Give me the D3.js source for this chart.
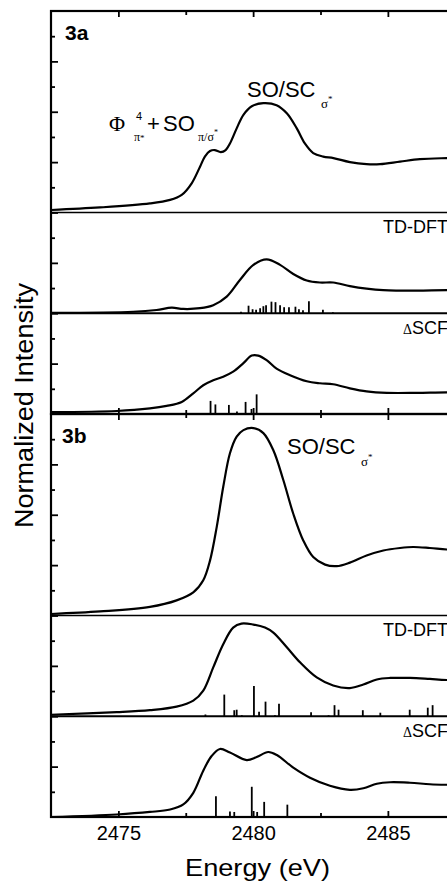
<!DOCTYPE html>
<html>
<head>
<meta charset="utf-8">
<script src="https://cdn.jsdelivr.net/npm/d3@7"></script>
<style>
  body { margin: 0; background: #fff; }
  svg { display: block; font-family: 'Liberation Sans', Arial, sans-serif; }
</style>
</head>
<body>
<div id="chart"></div>
<script>
// energy (eV), intensity above the trace's own baseline
const expA = [[2472.5,0.05],[2474.32,0.10],[2476.17,0.18],[2476.92,0.25],[2477.35,0.35],[2477.72,0.58],[2478.03,0.91],[2478.21,1.11],[2478.40,1.22],[2478.57,1.24],[2478.80,1.20],[2478.98,1.24],[2479.14,1.37],[2479.39,1.67],[2479.64,1.94],[2479.95,2.11],[2480.38,2.17],[2480.87,2.13],[2481.25,1.97],[2481.62,1.67],[2481.92,1.37],[2482.23,1.18],[2482.60,1.11],[2482.98,1.08],[2483.59,1.00],[2484.21,0.96],[2484.71,0.96],[2485.45,1.01],[2486.19,1.06],[2487.19,1.08],[2488.5,1.09],[2490,1.09]];
const tddftA = [[2472.5,0.01],[2475.55,0.03],[2476.42,0.065],[2476.98,0.11],[2477.41,0.085],[2478.03,0.10],[2478.52,0.16],[2479.02,0.33],[2479.51,0.66],[2480.01,0.96],[2480.50,1.07],[2481.00,0.96],[2481.49,0.78],[2481.99,0.65],[2482.48,0.61],[2482.97,0.61],[2483.59,0.54],[2484.21,0.49],[2484.83,0.46],[2486.07,0.45],[2487.19,0.46],[2490,0.46]];
const tddftSticksA = [[2479.55,0.03],[2479.83,0.15],[2479.98,0.08],[2480.11,0.07],[2480.26,0.10],[2480.38,0.14],[2480.48,0.16],[2480.68,0.23],[2480.83,0.22],[2481.00,0.16],[2481.15,0.12],[2481.33,0.12],[2481.57,0.13],[2481.70,0.08],[2481.85,0.06],[2482.07,0.24],[2482.59,0.07],[2482.96,0.02]];
const scfA = [[2472.5,0.04],[2474.94,0.06],[2476.17,0.11],[2476.79,0.16],[2477.35,0.24],[2477.78,0.41],[2478.15,0.57],[2478.52,0.67],[2478.89,0.74],[2479.26,0.84],[2479.64,1.01],[2479.95,1.16],[2480.19,1.16],[2480.50,1.07],[2480.87,0.90],[2481.37,0.77],[2481.99,0.65],[2482.48,0.61],[2482.97,0.59],[2483.59,0.51],[2484.21,0.45],[2484.96,0.42],[2486.07,0.42],[2487.19,0.43],[2490,0.43]];
const scfSticksA = [[2476.75,0.02],[2478.16,0.02],[2478.42,0.26],[2478.60,0.19],[2479.10,0.18],[2479.40,0.05],[2479.72,0.24],[2479.94,0.10],[2480.13,0.39]];

const expB = [[2472.5,0.03],[2474.32,0.08],[2476.17,0.17],[2477.16,0.30],[2477.78,0.46],[2478.15,0.70],[2478.40,1.09],[2478.65,1.76],[2478.89,2.55],[2479.14,3.22],[2479.39,3.55],[2479.64,3.68],[2480.01,3.72],[2480.38,3.62],[2480.75,3.28],[2481.12,2.69],[2481.49,2.02],[2481.86,1.49],[2482.23,1.16],[2482.67,1.01],[2483.10,0.98],[2483.59,1.05],[2484.21,1.19],[2484.83,1.29],[2485.45,1.34],[2485.94,1.36],[2486.56,1.34],[2487.19,1.31],[2488.5,1.28],[2490,1.27]];
const tddftB = [[2472.5,0.03],[2474.94,0.08],[2476.17,0.12],[2477.16,0.19],[2477.78,0.31],[2478.15,0.51],[2478.52,0.97],[2478.89,1.43],[2479.26,1.76],[2479.57,1.84],[2480.01,1.82],[2480.44,1.76],[2480.75,1.66],[2481.25,1.37],[2481.74,1.07],[2482.36,0.77],[2482.97,0.61],[2483.59,0.56],[2484.09,0.63],[2484.59,0.73],[2485.08,0.76],[2485.82,0.76],[2486.56,0.74],[2487.19,0.72],[2490,0.70]];
const tddftSticksB = [[2478.23,0.035],[2478.93,0.43],[2479.30,0.12],[2479.39,0.13],[2479.58,0.02],[2480.03,0.60],[2480.22,0.09],[2480.46,0.29],[2480.81,0.02],[2480.96,0.25],[2482.15,0.08],[2482.80,0.02],[2483.02,0.22],[2483.17,0.13],[2484.07,0.12],[2484.72,0.07],[2485.81,0.13],[2486.48,0.17],[2486.66,0.22]];
const scfB = [[2472.5,0.0],[2474.94,0.05],[2476.17,0.10],[2476.92,0.15],[2477.41,0.25],[2477.78,0.48],[2478.15,0.92],[2478.46,1.21],[2478.77,1.35],[2479.14,1.28],[2479.76,1.13],[2480.13,1.19],[2480.56,1.29],[2480.88,1.23],[2481.49,0.98],[2482.11,0.78],[2482.85,0.62],[2483.59,0.54],[2484.09,0.57],[2484.59,0.66],[2485.08,0.69],[2485.82,0.68],[2486.56,0.65],[2487.19,0.64],[2490,0.63]];
const scfSticksB = [[2478.62,0.41],[2479.14,0.11],[2479.30,0.10],[2479.51,0.02],[2479.95,0.60],[2480.15,0.10],[2480.41,0.30],[2481.27,0.245]];

const traceOffsets = { exp: 4, td: 2, scf: 0 };
const separatorLevels = [4, 2];
const xMajorTicks = [2475, 2480, 2485, 2490];
const xMinorTicks = [2477.5, 2482.5, 2487.5];
const xTickLabels = [2475, 2480, 2485];
const yMajorTicks = [1, 2, 3, 4, 5, 6, 7];
const yMinorTicks = [0.5, 1.5, 2.5, 3.5, 4.5, 5.5, 6.5, 7.5];

const W = 447, H = 882;
const x0 = 51;
const x = d3.scaleLinear().domain([2472.5, 2490]).range([x0, x0 + 17.5 * 26.95]);

const svg = d3.select('#chart').append('svg')
  .attr('width', W)
  .attr('height', H);

const plots = [
  { label: '3a', top: 11, bottom: 414, exp: expA, td: tddftA, tdSticks: tddftSticksA, scf: scfA, scfSticks: scfSticksA, tickLabels: false },
  { label: '3b', top: 414, bottom: 817, exp: expB, td: tddftB, tdSticks: tddftSticksB, scf: scfB, scfSticks: scfSticksB, tickLabels: true }
];

function drawPlot(p) {
  const y = d3.scaleLinear().domain([0, 8]).range([p.bottom, p.top]);
  const g = svg.append('g');

  const line = off => d3.line()
    .x(d => x(d[0]))
    .y(d => y(off + d[1]))
    .curve(d3.curveCatmullRom.alpha(0.5));

  // separators between stacked traces
  g.selectAll('line.sep')
    .data(separatorLevels)
    .join('line')
    .attr('x1', x0).attr('x2', x.range()[1])
    .attr('y1', d => y(d)).attr('y2', d => y(d))
    .attr('stroke', '#000')
    .attr('stroke-width', (d, i) => i === 0 ? 1.5 : 2);

  [['exp', p.exp], ['td', p.td], ['scf', p.scf]].forEach(([k, data]) => {
    g.append('path')
      .datum(data)
      .attr('fill', 'none')
      .attr('stroke', '#000')
      .attr('stroke-width', 2.2)
      .attr('d', line(traceOffsets[k]));
  });

  [['td', p.tdSticks], ['scf', p.scfSticks]].forEach(([k, data]) => {
    const off = traceOffsets[k];
    g.selectAll(null)
      .data(data)
      .enter().append('line')
      .attr('x1', d => x(d[0])).attr('x2', d => x(d[0]))
      .attr('y1', y(off)).attr('y2', d => y(off + d[1]))
      .attr('stroke', '#000')
      .attr('stroke-width', 1.8);
  });

  // left axis, ticks pointing inward
  const noLabel = sel => sel.call(s => s.select('.domain').remove())
    .selectAll('line').attr('stroke-width', 1.8);
  g.append('g').attr('transform', `translate(${x0},0)`)
    .call(d3.axisLeft(y).tickValues(yMajorTicks).tickSize(-7).tickFormat(''))
    .call(noLabel);
  g.append('g').attr('transform', `translate(${x0},0)`)
    .call(d3.axisLeft(y).tickValues(yMinorTicks).tickSize(-4).tickFormat(''))
    .call(noLabel);

  // top and bottom x ticks, inward
  g.append('g').attr('transform', `translate(0,${p.top})`)
    .call(d3.axisTop(x).tickValues(xMajorTicks).tickSize(-6).tickFormat(''))
    .call(noLabel);
  g.append('g').attr('transform', `translate(0,${p.top})`)
    .call(d3.axisTop(x).tickValues(xMinorTicks).tickSize(-4).tickFormat(''))
    .call(noLabel);
  const bot = g.append('g').attr('transform', `translate(0,${p.bottom})`)
    .call(d3.axisBottom(x).tickValues(xMajorTicks).tickSize(-6).tickPadding(9)
      .tickFormat(d => p.tickLabels && xTickLabels.includes(d) ? d : ''));
  bot.select('.domain').remove();
  bot.selectAll('line').attr('stroke-width', 1.8);
  bot.selectAll('text')
    .attr('font-family', "'Liberation Sans', Arial, sans-serif")
    .attr('font-size', 20)
    .attr('fill', '#000');
  g.append('g').attr('transform', `translate(0,${p.bottom})`)
    .call(d3.axisBottom(x).tickValues(xMinorTicks).tickSize(-4).tickFormat(''))
    .call(noLabel);

  // frame
  g.append('rect')
    .attr('x', x0).attr('y', p.top)
    .attr('width', x.range()[1] - x0)
    .attr('height', p.bottom - p.top)
    .attr('fill', 'none')
    .attr('stroke', '#000')
    .attr('stroke-width', 2.2);

  g.append('text')
    .attr('x', p.label === '3a' ? 65 : 62)
    .attr('y', p.label === '3a' ? 40 : 443)
    .attr('font-size', 21)
    .attr('font-weight', 'bold')
    .text(p.label);

  g.append('text')
    .attr('x', 383).attr('y', y(traceOffsets.exp) + 20)
    .attr('font-size', 18)
    .text('TD-DFT');
  const dscf = g.append('text')
    .attr('x', 403).attr('y', y(traceOffsets.td) + 21)
    .attr('font-size', 18);
  dscf.append('tspan').attr('font-family', "'Liberation Serif', serif").attr('font-size', 14).text('Δ');
  dscf.append('tspan').text('SCF');
}

plots.forEach(drawPlot);

// peak annotations
function soLabel(px, py, sx, sy) {
  svg.append('text').attr('x', px).attr('y', py).attr('font-size', 22).text('SO/SC');
  const t = svg.append('text').attr('x', sx).attr('y', sy)
    .attr('font-family', "'Liberation Serif', serif").attr('font-size', 13);
  t.append('tspan').text('σ');
  t.append('tspan').attr('font-size', 9).attr('dy', -6).text('*');
}
soLabel(247, 97, 321, 108);
soLabel(287, 454, 361, 466);

svg.append('text').attr('x', 109).attr('y', 131)
  .attr('font-family', "'Liberation Serif', serif").attr('font-size', 22).text('Φ');
svg.append('text').attr('x', 136).attr('y', 120).attr('font-size', 11).text('4');
const pis = svg.append('text').attr('x', 134).attr('y', 141)
  .attr('font-family', "'Liberation Serif', serif").attr('font-size', 12);
pis.append('tspan').text('π');
pis.append('tspan').attr('font-size', 9).text('*');
svg.append('text').attr('x', 147).attr('y', 131).attr('font-size', 22).text('+');
svg.append('text').attr('x', 163).attr('y', 131).attr('font-size', 22).text('SO');
const pisig = svg.append('text').attr('x', 198).attr('y', 141)
  .attr('font-family', "'Liberation Serif', serif").attr('font-size', 12);
pisig.append('tspan').text('π/σ');
pisig.append('tspan').attr('font-size', 8).attr('dy', -6).text('*');

// axis titles
svg.append('text')
  .attr('transform', 'translate(33,405.5) rotate(-90)')
  .attr('text-anchor', 'middle')
  .attr('font-size', 26)
  .attr('textLength', 245)
  .attr('lengthAdjust', 'spacingAndGlyphs')
  .text('Normalized Intensity');

svg.append('text')
  .attr('x', 257.5).attr('y', 876)
  .attr('text-anchor', 'middle')
  .attr('font-size', 24)
  .attr('textLength', 145)
  .attr('lengthAdjust', 'spacingAndGlyphs')
  .text('Energy (eV)');
</script>
</body>
</html>
